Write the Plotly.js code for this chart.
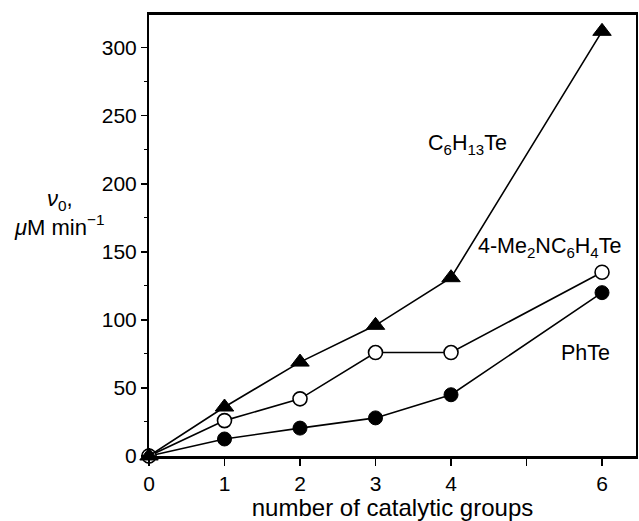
<!DOCTYPE html>
<html><head><meta charset="utf-8">
<script src="https://cdn.plot.ly/plotly-3.0.1.min.js"></script>
<style>html,body{margin:0;padding:0;background:#fff}</style>
</head><body>
<div id="chart" style="width:639px;height:521px"></div>
<script>
const groups = [0, 1, 2, 3, 4, 6];
const phTe = [0, 12.5, 20.5, 28, 45, 120];
const meNTe = [0, 26, 42, 76, 76, 135];
const hexTe = [0, 36, 69, 96, 131, 312];
const xTickVals = [0, 1, 2, 3, 4, 5, 6];
const xTickText = ['0', '1', '2', '3', '4', '', '6'];
const yTickVals = [0, 50, 100, 150, 200, 250, 300];

const font = {family: 'Liberation Sans, Arial, sans-serif', color: '#000'};
const line = {color: '#000', width: 1.6};
const f = s => Object.assign({size: s}, font);

const traces = [
  {x: groups, y: phTe, mode: 'lines+markers', line: line, cliponaxis: false,
   marker: {symbol: 'circle', size: 14, color: '#000', line: {color: '#000', width: 1}}},
  {x: groups, y: meNTe, mode: 'lines+markers', line: line, cliponaxis: false,
   marker: {symbol: 'circle', size: 14, color: '#fff', line: {color: '#000', width: 1.6}}},
  {x: groups, y: hexTe, mode: 'lines+markers', line: line, cliponaxis: false,
   marker: {symbol: 'triangle-up', size: 16, color: '#000', line: {color: '#000', width: 1}}}
];

const layout = {
  width: 639, height: 521,
  margin: {l: 149, r: 3, t: 15, b: 65},
  paper_bgcolor: '#fff', plot_bgcolor: '#fff',
  showlegend: false,
  font: f(21),
  xaxis: {
    range: [0, 6.45], tickvals: xTickVals, ticktext: xTickText,
    showgrid: false, zeroline: false,
    showline: true, linewidth: 3, linecolor: '#000', mirror: true,
    ticks: 'outside', ticklen: 7, tickwidth: 1.5, tickcolor: '#000',
    tickfont: f(21),
    title: {text: 'number of catalytic groups', font: f(24), standoff: 6}
  },
  yaxis: {
    range: [0, 324], tickvals: yTickVals,
    showgrid: false, zeroline: false,
    showline: true, linewidth: 2, linecolor: '#000', mirror: true,
    ticks: 'outside', ticklen: 6, tickwidth: 1.5, tickcolor: '#000',
    tickfont: f(21),
    minor: {tickvals: [25, 75, 125, 175, 225, 275], ticks: 'outside', ticklen: 3, tickcolor: '#000', tickwidth: 1}
  },
  annotations: [
    {xref: 'x', yref: 'y', x: 4.22, y: 229, text: 'C<sub>6</sub>H<sub>13</sub>Te', showarrow: false, font: f(21.5)},
    {xref: 'x', yref: 'y', x: 5.3, y: 153, text: '4-Me<sub>2</sub>NC<sub>6</sub>H<sub>4</sub>Te', showarrow: false, font: f(21.5)},
    {xref: 'x', yref: 'y', x: 5.78, y: 76, text: 'PhTe', showarrow: false, font: f(21.5)},
    {xref: 'paper', yref: 'paper', x: -0.183, y: 0.551, xanchor: 'center', yanchor: 'middle', align: 'center',
     text: '<i>ν</i><sub>0</sub>,<br><i>μ</i>M min<sup>−1</sup>', showarrow: false, font: f(22)}
  ]
};

Plotly.newPlot('chart', traces, layout, {displayModeBar: false, staticPlot: true});
</script>
</body></html>
